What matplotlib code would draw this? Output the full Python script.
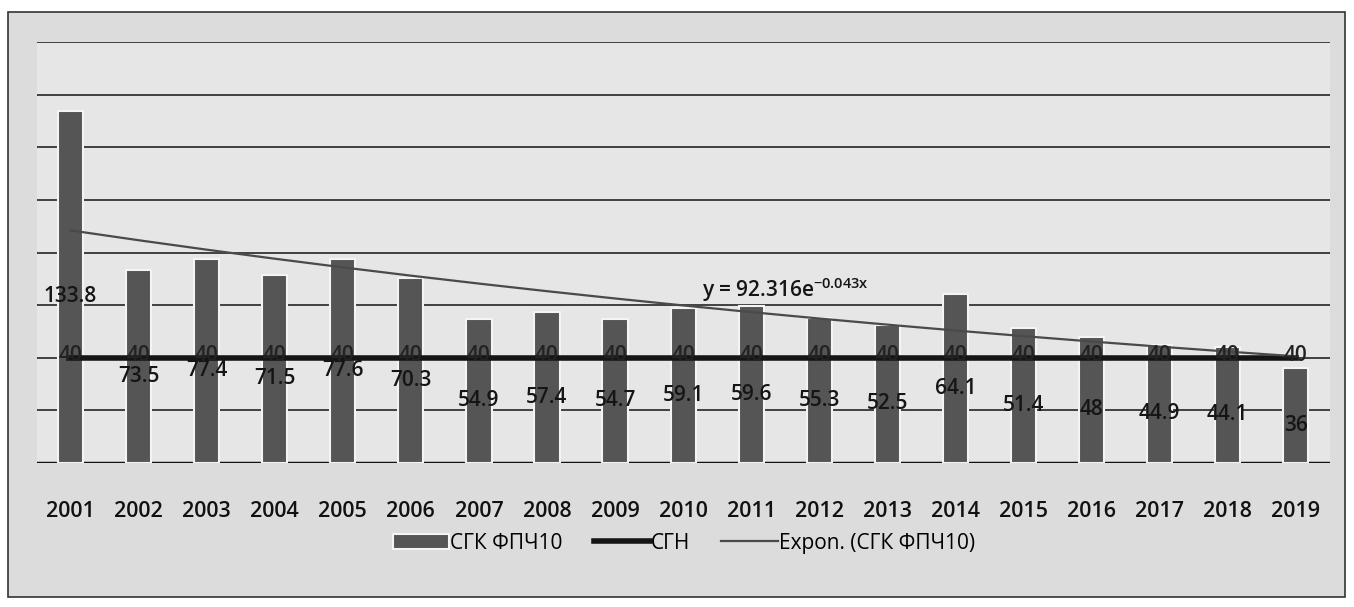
import numpy as np
import matplotlib.pyplot as plt
from matplotlib.patches import Rectangle

plt.rcParams['font.family'] = ['Open Sans', 'DejaVu Sans']

years = ['2001', '2002', '2003', '2004', '2005', '2006', '2007', '2008', '2009', '2010',
         '2011', '2012', '2013', '2014', '2015', '2016', '2017', '2018', '2019']
sgk = [133.8, 73.5, 77.4, 71.5, 77.6, 70.3, 54.9, 57.4, 54.7, 59.1,
       59.6, 55.3, 52.5, 64.1, 51.4, 48, 44.9, 44.1, 36]
sgn = [40] * 19
equation = 'y = 92.316e$^{\\mathregular{-0.043x}}$'

x = np.arange(len(years))

# exponential trend, fitted the way excel does it (least squares on ln y)
k, lnA = np.polyfit(x + 1, np.log(sgk), 1)
trend = np.exp(lnA) * np.exp(k * (x + 1))

fig = plt.figure(figsize=(13.54, 6.07), dpi=100)
fig.patch.set_facecolor('white')
fig.patches.append(Rectangle((0.006, 0.016), 0.987, 0.964, transform=fig.transFigure,
                             facecolor='#dcdcdc', edgecolor='#333333', lw=1.2, zorder=-5))

ax = fig.add_axes([0.027, 0.237, 0.955, 0.694])
ax.set_zorder(2)
ax.set_facecolor('#e6e6e6')
ax.set_xlim(-0.5, len(years) - 0.5)
ax.set_ylim(0, 160)
ax.set_yticks(np.arange(0, 161, 20))
ax.yaxis.grid(True, color='#333333', lw=1.3)
ax.set_axisbelow(True)
for s in ax.spines.values():
    s.set_visible(False)
ax.axhline(0, color='#111111', lw=2.5, zorder=1)
ax.tick_params(axis='y', left=False, labelleft=False)
ax.tick_params(axis='x', length=0, pad=27, labelsize=15.5, labelcolor='#111111')
ax.set_xticks(x)
ax.set_xticklabels(years, fontweight='semibold')

bars = ax.bar(x, sgk, width=0.37, color='#555555', edgecolor='#f4f4f4', lw=1.5,
              label='СГК ФПЧ10', zorder=2)
line_sgn, = ax.plot(x, sgn, color='#151515', lw=4, label='СГН', zorder=3)
line_tr, = ax.plot(x, trend, color='#4a4a4a', lw=1.6, label='Expon. (СГК ФПЧ10)', zorder=4)

for xi, v in zip(x, sgk):
    ax.annotate(f'{v:g}', (xi, v / 2), xytext=(0, -7), textcoords='offset points',
                ha='center', va='center', fontsize=15, color='#151515',
                fontweight='semibold', zorder=5)
for xi, v in zip(x, sgn):
    ax.text(xi, v + 1, f'{v:g}', ha='center', va='center', fontsize=15, color='#222222',
            fontweight='semibold', zorder=5)

ax.text(10.5, 66, equation, ha='center', va='center', fontsize=15, color='#151515',
        fontweight='semibold', zorder=5)

fig.legend([bars, line_sgn, line_tr], ['СГК ФПЧ10', 'СГН', 'Expon. (СГК ФПЧ10)'],
           loc='center', bbox_to_anchor=(0.505, 0.105), ncol=3, frameon=False,
           fontsize=15, handlelength=2.7, columnspacing=1.5, handletextpad=0.05)

fig.savefig('out.png', dpi=100, facecolor=fig.get_facecolor())
